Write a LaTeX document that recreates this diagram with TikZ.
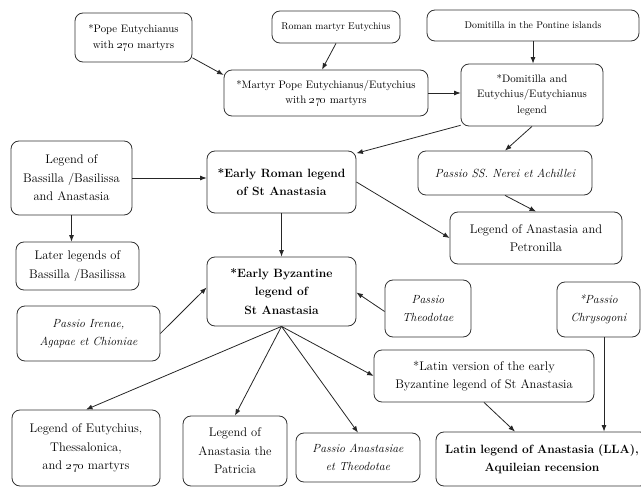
\documentclass[tikz,border=0pt]{standalone}
\usetikzlibrary{arrows.meta}
\begin{document}
\begin{tikzpicture}[x=1pt,y=-1pt,
  bx/.style={draw=black!80, rounded corners=8pt, line width=0.8pt, align=center, inner sep=0pt, text=black, font=\fontsize{12.5}{18.5}\selectfont},
  topf/.style={font=\fontsize{10.8}{15.5}\selectfont},
  smf/.style={font=\fontsize{9.8}{12}\selectfont},
  bf/.style={font=\fontsize{12}{18.5}\selectfont\bfseries},
  itf/.style={font=\fontsize{11.8}{18.5}\selectfont\itshape},
  arr/.style={-{Latex[length=6.5pt,width=5pt]}, line width=0.8pt, draw=black!85},
]
\useasboundingbox (0,0) rectangle (641,487);
% boxes
\node[bx,topf,minimum width=117pt,minimum height=49pt] (b1) at (133.5,37.5) {*Pope Eutychianus\\with \oldstylenums{270} martyrs};
\node[bx,smf,minimum width=128pt,minimum height=32pt] (b2) at (336,27) {Roman martyr Eutychius};
\node[bx,smf,minimum width=212pt,minimum height=31pt] (b3) at (533,25.5) {Domitilla in the Pontine islands};
\node[bx,topf,minimum width=204pt,minimum height=46pt] (b4) at (326,93) {*Martyr Pope Eutychianus/Eutychius\\with \oldstylenums{270} martyrs};
\node[bx,topf,minimum width=142pt,minimum height=62pt] (b5) at (532,95) {*Domitilla and\\Eutychius/Eutychianus\\legend};
\node[bx,minimum width=121pt,minimum height=74pt] (b6) at (71.5,178) {Legend of\\Bassilla /Basilissa\\and Anastasia};
\node[bx,bf,minimum width=149pt,minimum height=62pt] (b7) at (281.5,182) {*Early Roman legend\\of St Anastasia};
\node[bx,itf,minimum width=174pt,minimum height=44pt] (b8) at (505,173) {Passio SS. Nerei et Achillei};
\node[bx,minimum width=172pt,minimum height=52pt] (b9) at (536,238) {Legend of Anastasia and\\Petronilla};
\node[bx,minimum width=123pt,minimum height=48pt] (b10) at (77.5,266) {Later legends of\\Bassilla /Basilissa};
\node[bx,bf,minimum width=149pt,minimum height=69pt] (b11) at (281.5,291.5) {*Early Byzantine\\legend of\\St Anastasia};
\node[bx,itf,minimum width=86pt,minimum height=57pt] (b12) at (428,308.5) {Passio\\Theodotae};
\node[bx,itf,minimum width=83pt,minimum height=55pt] (b13) at (598.5,309.5) {*Passio\\Chrysogoni};
\node[bx,itf,minimum width=143pt,minimum height=55pt] (b14) at (88.5,333.5) {Passio Irenae,\\Agapae et Chioniae};
\node[bx,minimum width=220pt,minimum height=52pt] (b15) at (484,376) {*Latin version of the early\\Byzantine legend of St Anastasia};
\node[bx,minimum width=148pt,minimum height=76pt] (b16) at (86,448) {Legend of Eutychius,\\Thessalonica,\\and \oldstylenums{270} martyrs};
\node[bx,minimum width=104pt,minimum height=70pt] (b17) at (235,451) {Legend of\\Anastasia the\\Patricia};
\node[bx,itf,minimum width=124pt,minimum height=49pt] (b18) at (358,457.5) {Passio Anastasiae\\et Theodotae};
\node[bx,bf,minimum width=212pt,minimum height=54pt,text width=205pt] (b19) at (542,459) {Latin legend of Anastasia (LLA),\\Aquileian recension};
% connectors
\draw[arr] (b1.-19) -- (b4.170);
\draw[arr] (b2.south) -- ([xshift=-4pt]b4.north);
\draw[arr] (b4.east) -- (b4.east -| b5.west);
\draw[arr] (b3.south) -- (b3.south |- b5.north);
\draw[arr] (b5.203) -- (b7.21);
\draw[arr] (b5.south) -- (b8.north);
\draw[arr] (b6.east) -- (b6.east -| b7.west);
\draw[arr] (b6.south) -- (b6.south |- b10.north);
\draw[arr] (b7.east) -- (b9.west);
\draw[arr] (b8.south) -- (b9.north);
\draw[arr] (b7.south) -- (b11.north);
\draw[arr] (b14.east) -- ([yshift=4pt]b11.west);
\draw[arr] ([yshift=-3pt]b12.west) -- ([yshift=-1pt]b11.east);
\draw[arr] (b11.south) -- (b16.north);
\draw[arr] (b11.south) -- (b17.north);
\draw[arr] (b11.south) -- (b18.north);
\draw[arr] (b11.south) -- (b15.west);
\draw[arr] (b15.south) -- ([xshift=-27pt]b19.north);
\draw[arr] ([xshift=5.5pt]b13.south) -- ([xshift=5.5pt]b13.south |- b19.north);
\end{tikzpicture}
\end{document}
